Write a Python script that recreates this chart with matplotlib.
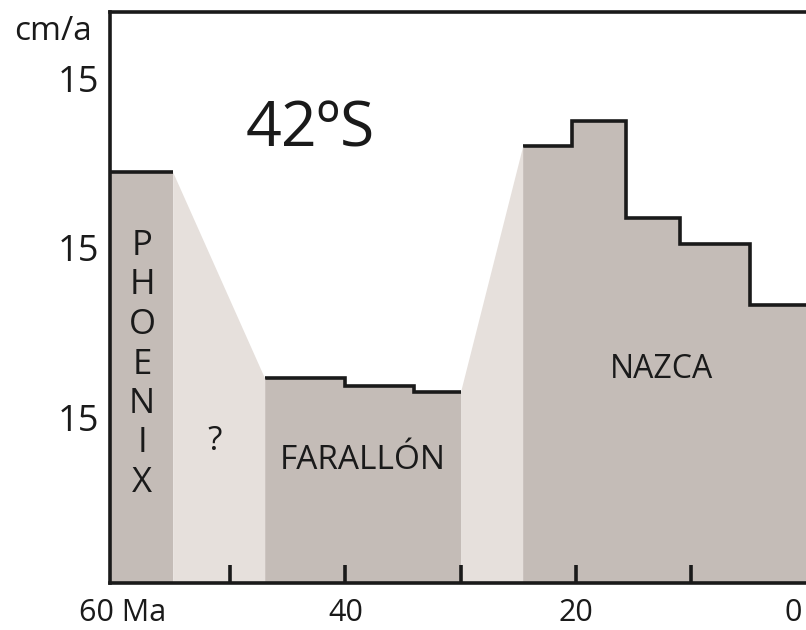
import matplotlib.pyplot as plt
from matplotlib.transforms import ScaledTranslation

# convergence rate at 42°S (cm/a) for each plate, ages in Ma (older first)
phoenix_edges = [61.0, 55.0]
phoenix_rate = [12.25]
farallon_edges = [47.0, 40.0, 34.0, 30.0]
farallon_rate = [6.14, 5.92, 5.75]
nazca_edges = [24.6, 20.3, 15.6, 10.9, 4.9, -1.0]
nazca_rate = [13.02, 13.77, 10.88, 10.12, 8.31]

age_ticks = [60, 40, 20, 0]
age_labels = ['60 Ma', '40', '20', '0']
age_marks = [50, 40, 30, 20, 10]
rate_ticks = [15, 10, 5]
rate_labels = ['15', '15', '15']

dark = '#c4bcb7'
light = '#e6e0dc'
ink = '#1a1a1a'

plt.rcParams['font.family'] = ['Open Sans', 'DejaVu Sans']

fig = plt.figure(figsize=(8.06, 6.3), dpi=100)
ax = fig.add_axes([110 / 806, 47 / 630, 696 / 806, 571 / 630])

plates = [(phoenix_edges, phoenix_rate),
          (farallon_edges, farallon_rate),
          (nazca_edges, nazca_rate)]
for edges, rate in plates:
    ax.stairs(rate[::-1], edges[::-1], baseline=0, fill=True,
              color=dark, lw=0)
    outline = ax.stairs(rate[::-1], edges[::-1], baseline=None,
                        color=ink, lw=2.6)
    outline.set_joinstyle('miter')
    outline.set_capstyle('butt')

# uncertain transitions between plates
for (e0, r0), (e1, r1) in zip(plates[:-1], plates[1:]):
    ax.fill_between([e0[-1], e1[0]], [r0[-1], r1[0]], 0,
                    color=light, lw=0)

ax.set_xlim(60.44, 0.57)
ax.set_ylim(0.09, 16.98)

ax.set_xticks(age_ticks, age_labels)
ax.set_xticks(age_marks, minor=True)
ax.xaxis.remove_overlapping_locs = False
ax.tick_params(axis='x', which='major', length=0, pad=11,
               labelsize=22, labelcolor=ink)
ax.tick_params(axis='x', which='minor', direction='in', length=13,
               width=2.6, color=ink)
ax.set_yticks(rate_ticks, rate_labels)
ax.tick_params(axis='y', length=0, pad=8, labelsize=26, labelcolor=ink)

# keep the end labels inside the figure
labels = ax.get_xticklabels()
labels[0].set_transform(labels[0].get_transform()
                        + ScaledTranslation(8 / 100, 0, fig.dpi_scale_trans))
labels[-1].set_transform(labels[-1].get_transform()
                         + ScaledTranslation(-13 / 100, 0, fig.dpi_scale_trans))

ax.spines['right'].set_visible(False)
for side in ['left', 'top', 'bottom']:
    ax.spines[side].set_linewidth(2.6)
    ax.spines[side].set_color(ink)

fig.text(92 / 806, 1 - 40 / 630, 'cm/a', ha='right', va='baseline',
         fontsize=24, color=ink)

ax.text(0.287, 0.764, '42ºS', transform=ax.transAxes, ha='center',
        va='baseline', fontsize=45, color=ink)
for i, ch in enumerate('PHOENIX'):
    ax.text(0.046, (583 - 255 - 39.5 * i) / 571, ch, transform=ax.transAxes,
            ha='center', va='baseline', fontsize=25, color=ink)
ax.text(0.151, 0.233, '?', transform=ax.transAxes, ha='center',
        va='baseline', fontsize=24, color=ink)
ax.text(0.3635, 0.1996, 'FARALLÓN', transform=ax.transAxes, ha='center',
        va='baseline', fontsize=24, color=ink)
ax.text(0.792, 0.359, 'NAZCA', transform=ax.transAxes, ha='center',
        va='baseline', fontsize=23, color=ink)

fig.savefig('out.png', dpi=100)
